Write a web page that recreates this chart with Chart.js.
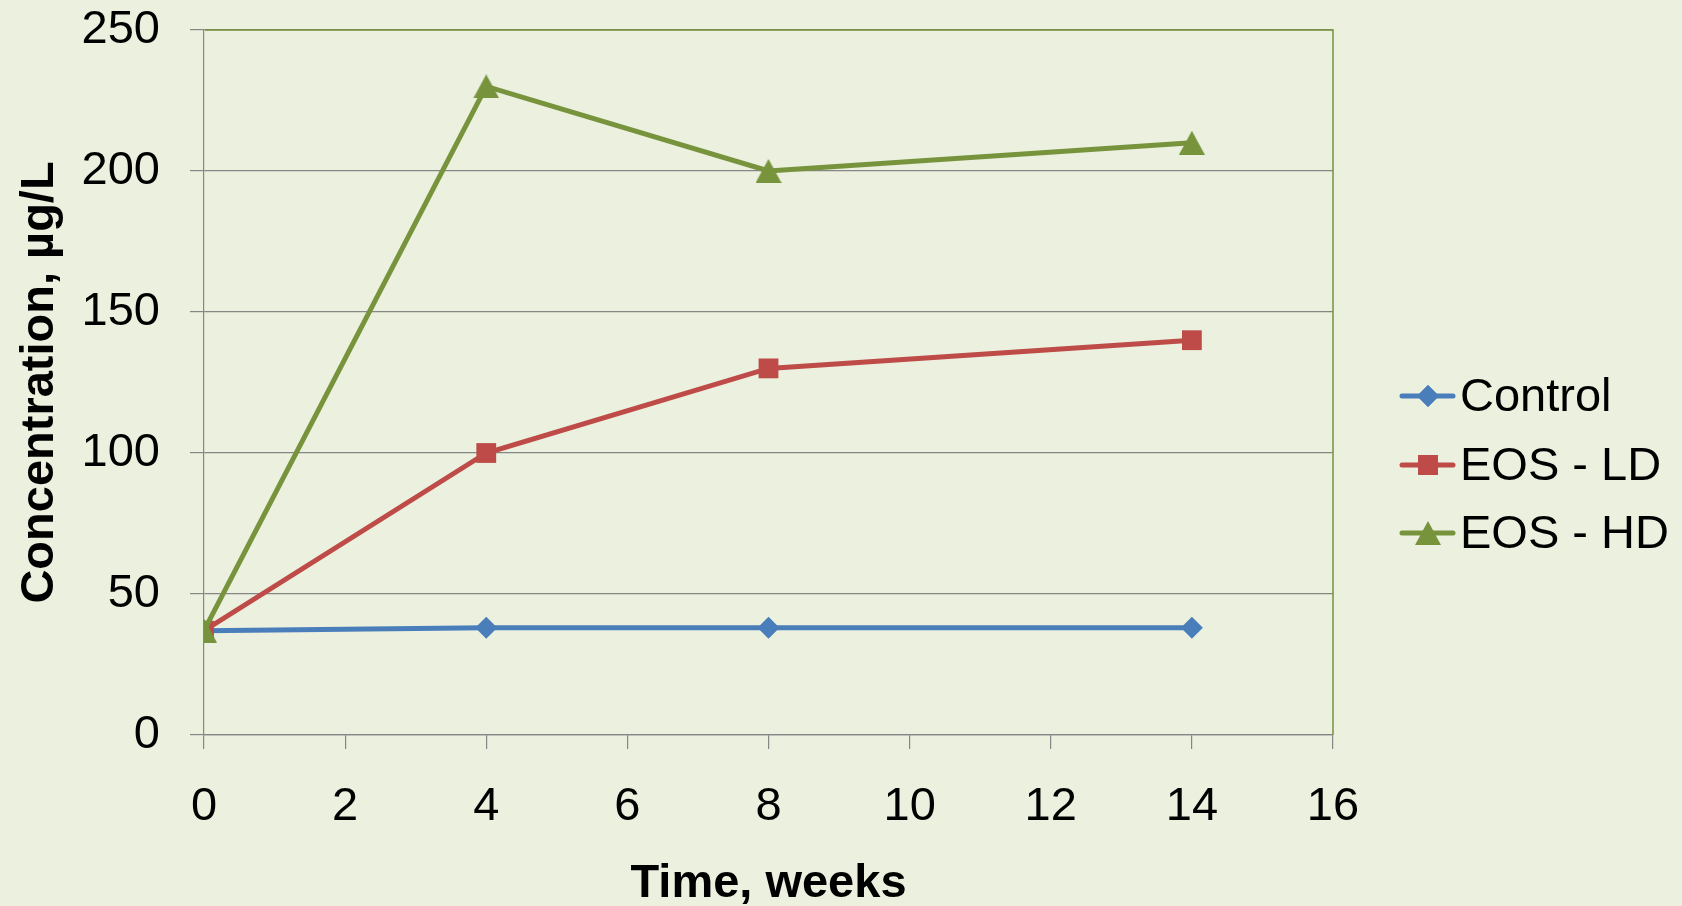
<!DOCTYPE html>
<html>
<head>
<meta charset="utf-8">
<script src="https://cdn.jsdelivr.net/npm/chart.js@4"></script>
<style>
  html, body { margin: 0; padding: 0; background: #EBF0DF; }
  #wrap { width: 1682px; height: 906px; position: relative; }
</style>
</head>
<body>
<div id="wrap"><canvas id="chart"></canvas></div>
<script>
// Datos
const weeks = [0, 4, 8, 14];
const control = [37, 38, 38, 38];
const eosLD = [37, 100, 130, 140];
const eosHD = [37, 230, 200, 210];
const seriesNames = ['Control', 'EOS - LD', 'EOS - HD'];
const yTicks = [0, 50, 100, 150, 200, 250];
const xTicks = [0, 2, 4, 6, 8, 10, 12, 14, 16];

const FONT = '"Liberation Sans", Arial, sans-serif';
const GRID = '#868686';
const BORDER_GREEN = '#77933C';

const toPoints = vals => vals.map((v, i) => ({ x: weeks[i], y: v }));

// Triángulo centrado en su caja (como en Excel), no en su baricentro
function triangleImage(color, w, h) {
  const c = document.createElement('canvas');
  c.width = w;
  c.height = h;
  const g = c.getContext('2d');
  g.fillStyle = color;
  g.beginPath();
  g.moveTo(w / 2, 0);
  g.lineTo(w, h);
  g.lineTo(0, h);
  g.closePath();
  g.fill();
  return c;
}

const styles = [
  { color: '#4A7EBB', pointStyle: 'rectRot', radius: 11, order: 3 },
  { color: '#BE4B48', pointStyle: 'rect', radius: 14, order: 2 },
  { color: '#77933C', pointStyle: triangleImage('#77933C', 26, 24), radius: 13, order: 1 }
];
const values = [control, eosLD, eosHD];

const datasets = values.map((vals, i) => ({
  label: seriesNames[i],
  data: toPoints(vals),
  borderColor: styles[i].color,
  backgroundColor: styles[i].color,
  borderWidth: 5,
  tension: 0,
  fill: false,
  pointStyle: styles[i].pointStyle,
  pointRadius: styles[i].radius,
  pointHoverRadius: styles[i].radius,
  pointBorderWidth: 0,
  order: styles[i].order
}));

// Borde verde del área de trazado (arriba y derecha)
const plotBorder = {
  id: 'plotBorder',
  afterDraw(chart) {
    const { ctx, chartArea } = chart;
    ctx.save();
    ctx.strokeStyle = BORDER_GREEN;
    ctx.lineWidth = 1.5;
    ctx.beginPath();
    ctx.moveTo(chartArea.left + 1, chartArea.top);
    ctx.lineTo(chartArea.right, chartArea.top);
    ctx.lineTo(chartArea.right, chartArea.bottom);
    ctx.stroke();
    ctx.restore();
  }
};

// Leyenda a la derecha: línea + marcador + texto
const sideLegend = {
  id: 'sideLegend',
  afterDraw(chart) {
    const { ctx } = chart;
    const rows = [396, 465, 533];
    ctx.save();
    chart.data.datasets.forEach((ds, i) => {
      const y = rows[i];
      ctx.strokeStyle = ds.borderColor;
      ctx.lineWidth = 5;
      ctx.lineCap = 'round';
      ctx.beginPath();
      ctx.moveTo(1402, y);
      ctx.lineTo(1453, y);
      ctx.stroke();
      ctx.fillStyle = ds.backgroundColor;
      ctx.strokeStyle = ds.backgroundColor;
      Chart.helpers.drawPoint(ctx, {
        pointStyle: ds.pointStyle,
        radius: ds.pointRadius,
        borderWidth: 0,
        rotation: 0
      }, 1428, y);
      if (typeof ds.pointStyle === 'string') ctx.fill();
      ctx.fillStyle = '#000';
      ctx.font = '47px ' + FONT;
      ctx.textAlign = 'left';
      ctx.textBaseline = 'middle';
      ctx.fillText(ds.label, 1460, y + 2);
    });
    ctx.restore();
  }
};

const canvas = document.getElementById('chart');
canvas.width = 1682;
canvas.height = 906;

new Chart(canvas.getContext('2d'), {
  type: 'line',
  data: { datasets },
  options: {
    responsive: false,
    animation: false,
    events: [],
    layout: { padding: { left: 0, top: 30, right: 349, bottom: 0 } },
    plugins: {
      legend: { display: false },
      tooltip: { enabled: false }
    },
    scales: {
      x: {
        type: 'linear',
        min: 0,
        max: 16,
        afterBuildTicks: s => { s.ticks = xTicks.map(v => ({ value: v })); },
        afterFit: s => { s.height = 171; },
        grid: {
          drawOnChartArea: false,
          drawTicks: true,
          tickLength: 14,
          color: GRID,
          lineWidth: 1.2
        },
        border: { display: true, color: GRID, width: 1.2 },
        ticks: {
          color: '#000',
          padding: 30,
          maxRotation: 0,
          font: { family: FONT, size: 47 }
        },
        title: {
          display: true,
          text: 'Time, weeks',
          color: '#000',
          padding: { top: 0, bottom: 0 },
          font: { family: FONT, size: 47, weight: 'bold', lineHeight: 0.92 }
        }
      },
      y: {
        min: 0,
        max: 250,
        afterBuildTicks: s => { s.ticks = yTicks.map(v => ({ value: v })); },
        afterFit: s => {
          s.width = 204;
          // sin relleno extra por las etiquetas, el área empieza en y=30
          s.paddingTop = 0;
          s.paddingBottom = 0;
        },
        grid: {
          drawOnChartArea: true,
          drawTicks: true,
          tickLength: 14,
          color: GRID,
          lineWidth: 1.2
        },
        border: { display: true, color: GRID, width: 1.2 },
        ticks: {
          color: '#000',
          padding: 30,
          font: { family: FONT, size: 47 }
        },
        title: {
          display: true,
          text: 'Concentration, µg/L',
          color: '#000',
          padding: { top: 12, bottom: 0 },
          font: { family: FONT, size: 47, weight: 'bold' }
        }
      }
    }
  },
  plugins: [plotBorder, sideLegend]
});
</script>
</body>
</html>
